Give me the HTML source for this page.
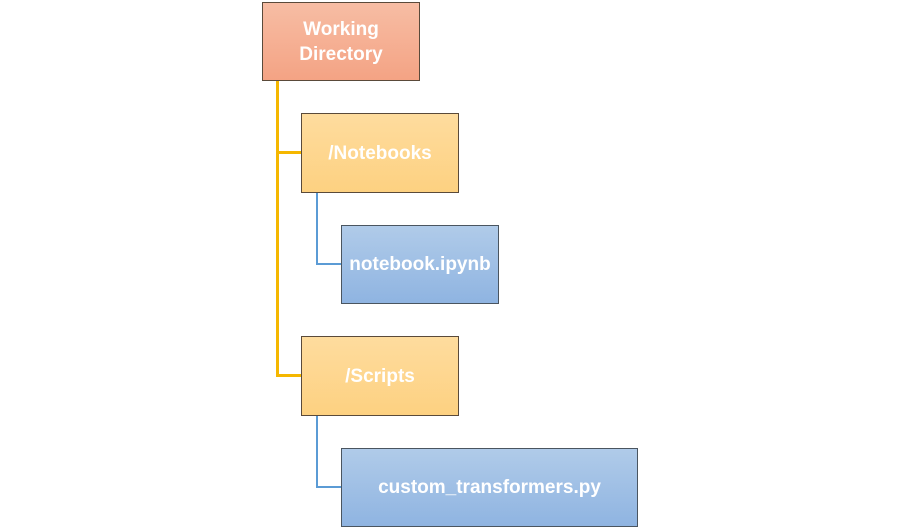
<!DOCTYPE html>
<html><head><style>
body{margin:0;width:900px;height:529px;background:#fff;position:relative;overflow:hidden;font-family:"Liberation Sans",sans-serif}
.b{position:absolute;box-sizing:border-box;border:1px solid #5a4a3a;color:#fff;font-weight:bold;font-size:19px;display:flex;align-items:center;justify-content:center;text-align:center;line-height:25px}
.r{background:linear-gradient(#f7bda4,#f4a384)}
.y{background:linear-gradient(#fedc9e,#fdd181)}
.bl{background:linear-gradient(#b0cbe9,#8fb4e1);border-color:#4a5560}
.l{position:absolute}
</style></head><body>
<div class="l" style="left:276px;top:80px;width:3px;height:297px;background:#f5b700"></div>
<div class="l" style="left:276px;top:151px;width:25px;height:3px;background:#f5b700"></div>
<div class="l" style="left:276px;top:374px;width:25px;height:3px;background:#f5b700"></div>
<div class="l" style="left:316px;top:192px;width:2px;height:73px;background:#5b9bd5"></div>
<div class="l" style="left:316px;top:263px;width:25px;height:2px;background:#5b9bd5"></div>
<div class="l" style="left:316px;top:415px;width:2px;height:73px;background:#5b9bd5"></div>
<div class="l" style="left:316px;top:486px;width:25px;height:2px;background:#5b9bd5"></div>
<div class="b r" style="left:262px;top:2px;width:158px;height:79px">Working<br>Directory</div>
<div class="b y" style="left:301px;top:113px;width:158px;height:80px">/Notebooks</div>
<div class="b bl" style="left:341px;top:225px;width:158px;height:79px">notebook.ipynb</div>
<div class="b y" style="left:301px;top:336px;width:158px;height:80px">/Scripts</div>
<div class="b bl" style="left:341px;top:448px;width:297px;height:79px">custom_transformers.py</div>
</body></html>
